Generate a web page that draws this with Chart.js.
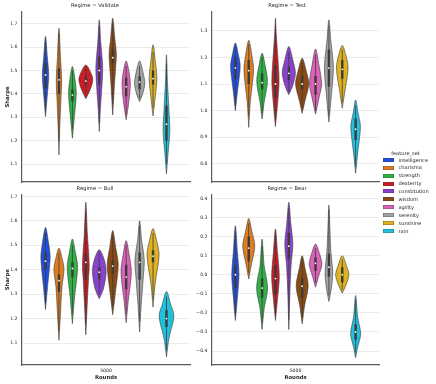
<!DOCTYPE html>
<html lang="en">
<head>
<meta charset="UTF-8">
<title>Sharpe by regime</title>
<style>
  body { margin: 0; background: #fff; }
  #wrap { position: relative; width: 436px; height: 384px; overflow: hidden; font-family: "DejaVu Sans", sans-serif; }
  canvas { position: absolute; }
  #legend { position: absolute; left: 382.5px; top: 148.5px; width: 53px; color: #262626; font-size: 5.1px; }
  #legend .ttl { width: 46px; text-align: center; height: 8px; line-height: 8px; }
  #legend .row { height: 7.97px; line-height: 7.97px; white-space: nowrap; }
  #legend .sw { display: inline-block; width: 11.5px; height: 4px; vertical-align: middle; margin-right: 4.5px; box-shadow: inset 0 0 0 0.6px rgba(60, 60, 60, 0.55); position: relative; top: -0.5px; }
</style>
<script src="https://cdn.jsdelivr.net/npm/chart.js"></script>
</head>
<body>
<div id="wrap">
  <canvas id="validate" width="200" height="192" style="left:0;top:0"></canvas>
  <canvas id="test" width="190" height="192" style="left:195px;top:0"></canvas>
  <canvas id="bull" width="200" height="200" style="left:0;top:184px"></canvas>
  <canvas id="bear" width="190" height="200" style="left:195px;top:184px"></canvas>
  <div id="legend"></div>
</div>
<script>
const rounds = ['5000'];
const featureSets = ['intelligence', 'charisma', 'strength', 'dexterity', 'constitution',
                     'wisdom', 'agility', 'serenity', 'sunshine', 'rain'];
const colors = ['#224fdf', '#df7d20', '#30b346', '#cb1d25', '#8a42cb',
                '#8b4a14', '#dc61b8', '#a3a3a3', '#dfb320', '#20c1df'];

// inner box per feature set: [whisker low, q1, median, q3, whisker high]
const validateStats = [
  [1.33, 1.424, 1.481, 1.531, 1.62], [1.20, 1.40, 1.46, 1.51, 1.66], [1.25, 1.37, 1.395, 1.42, 1.50],
  [1.40, 1.44, 1.455, 1.475, 1.51], [1.28, 1.44, 1.50, 1.56, 1.69], [1.36, 1.53, 1.555, 1.59, 1.70],
  [1.31, 1.39, 1.43, 1.47, 1.52], [1.38, 1.42, 1.45, 1.475, 1.52], [1.34, 1.44, 1.465, 1.50, 1.58],
  [1.10, 1.20, 1.27, 1.35, 1.53]
];
const testStats = [
  [1.02, 1.12, 1.16, 1.20, 1.24], [0.98, 1.10, 1.15, 1.19, 1.25], [0.99, 1.08, 1.105, 1.14, 1.20],
  [0.97, 1.05, 1.10, 1.17, 1.32], [1.07, 1.115, 1.14, 1.165, 1.22], [1.01, 1.08, 1.10, 1.13, 1.18],
  [1.00, 1.06, 1.10, 1.13, 1.21], [0.98, 1.09, 1.16, 1.23, 1.32], [1.03, 1.12, 1.155, 1.19, 1.23],
  [0.79, 0.89, 0.93, 0.97, 1.02]
];
const bullStats = [
  [1.27, 1.40, 1.435, 1.47, 1.55], [1.15, 1.31, 1.355, 1.38, 1.47], [1.22, 1.37, 1.405, 1.43, 1.50],
  [1.18, 1.36, 1.43, 1.465, 1.64], [1.30, 1.36, 1.39, 1.41, 1.47], [1.25, 1.38, 1.415, 1.44, 1.54],
  [1.22, 1.32, 1.37, 1.42, 1.50], [1.19, 1.36, 1.43, 1.47, 1.58], [1.28, 1.43, 1.455, 1.48, 1.55],
  [1.07, 1.165, 1.20, 1.235, 1.29]
];
const bearStats = [
  [-0.20, -0.07, 0.00, 0.05, 0.22], [0.01, 0.07, 0.14, 0.20, 0.27], [-0.25, -0.12, -0.07, -0.02, 0.15],
  [-0.20, -0.10, -0.02, 0.05, 0.21], [-0.24, 0.08, 0.15, 0.22, 0.35], [-0.22, -0.12, -0.06, -0.02, 0.08],
  [-0.04, 0.02, 0.06, 0.09, 0.14], [-0.11, -0.01, 0.04, 0.11, 0.34], [-0.08, -0.04, 0.00, 0.04, 0.08],
  [-0.41, -0.34, -0.30, -0.26, -0.13]
];

// violin outline per feature set, bottom to top: [sharpe, density]
const validateShape = [
  [[1.303, 0], [1.38, 0.22], [1.48, 0.47], [1.56, 0.26], [1.646, 0]],
  [[1.139, 0], [1.25, 0.11], [1.38, 0.30], [1.46, 0.40], [1.56, 0.22], [1.681, 0]],
  [[1.21, 0], [1.28, 0.22], [1.40, 0.57], [1.47, 0.34], [1.517, 0]],
  [[1.379, 0], [1.42, 0.67], [1.46, 1.04], [1.49, 0.75], [1.524, 0]],
  [[1.239, 0], [1.33, 0.15], [1.46, 0.45], [1.52, 0.50], [1.62, 0.22], [1.717, 0]],
  [[1.31, 0], [1.42, 0.22], [1.52, 0.45], [1.57, 0.54], [1.64, 0.30], [1.724, 0]],
  [[1.289, 0], [1.36, 0.37], [1.44, 0.62], [1.49, 0.45], [1.541, 0]],
  [[1.367, 0], [1.40, 0.45], [1.445, 0.77], [1.49, 0.52], [1.541, 0]],
  [[1.306, 0], [1.38, 0.30], [1.467, 0.57], [1.53, 0.37], [1.61, 0]],
  [[1.057, 0], [1.14, 0.22], [1.24, 0.50], [1.33, 0.37], [1.45, 0.15], [1.567, 0]]
];
const testShape = [
  [[1.00, 0], [1.07, 0.30], [1.166, 0.72], [1.21, 0.45], [1.254, 0]],
  [[0.937, 0], [1.03, 0.22], [1.153, 0.72], [1.21, 0.45], [1.264, 0]],
  [[0.969, 0], [1.03, 0.30], [1.11, 0.80], [1.17, 0.45], [1.216, 0]],
  [[0.94, 0], [1.01, 0.26], [1.11, 0.54], [1.22, 0.30], [1.29, 0.11], [1.348, 0]],
  [[1.06, 0], [1.09, 0.52], [1.14, 0.99], [1.19, 0.60], [1.241, 0]],
  [[0.99, 0], [1.04, 0.45], [1.10, 0.99], [1.15, 0.60], [1.197, 0]],
  [[0.987, 0], [1.04, 0.45], [1.10, 0.90], [1.17, 0.52], [1.231, 0]],
  [[0.957, 0], [1.04, 0.30], [1.16, 0.67], [1.26, 0.30], [1.341, 0]],
  [[1.009, 0], [1.07, 0.37], [1.16, 0.87], [1.21, 0.52], [1.245, 0]],
  [[0.765, 0], [0.84, 0.30], [0.94, 0.72], [0.99, 0.37], [1.04, 0]]
];
const bullShape = [
  [[1.237, 0], [1.33, 0.30], [1.45, 0.69], [1.51, 0.45], [1.573, 0]],
  [[1.111, 0], [1.22, 0.22], [1.33, 0.45], [1.40, 0.75], [1.44, 0.52], [1.488, 0]],
  [[1.179, 0], [1.28, 0.30], [1.41, 0.77], [1.47, 0.45], [1.526, 0]],
  [[1.134, 0], [1.25, 0.19], [1.35, 0.37], [1.42, 0.50], [1.55, 0.22], [1.676, 0]],
  [[1.281, 0], [1.32, 0.60], [1.39, 1.02], [1.44, 0.75], [1.482, 0]],
  [[1.216, 0], [1.30, 0.37], [1.42, 0.82], [1.49, 0.45], [1.56, 0]],
  [[1.183, 0], [1.27, 0.30], [1.39, 0.77], [1.46, 0.45], [1.519, 0]],
  [[1.145, 0], [1.25, 0.22], [1.36, 0.52], [1.44, 0.69], [1.52, 0.30], [1.60, 0]],
  [[1.247, 0], [1.34, 0.30], [1.46, 0.90], [1.52, 0.52], [1.569, 0]],
  [[1.043, 0], [1.12, 0.37], [1.21, 1.10], [1.26, 0.60], [1.311, 0]]
];
const bearShape = [
  [[-0.24, 0], [-0.12, 0.30], [0.00, 0.54], [0.12, 0.30], [0.257, 0]],
  [[-0.022, 0], [0.05, 0.37], [0.15, 0.90], [0.23, 0.45], [0.295, 0]],
  [[-0.287, 0], [-0.18, 0.30], [-0.07, 0.82], [0.05, 0.30], [0.187, 0]],
  [[-0.24, 0], [-0.13, 0.30], [-0.01, 0.57], [0.12, 0.30], [0.24, 0]],
  [[-0.287, 0], [-0.10, 0.15], [0.05, 0.34], [0.16, 0.60], [0.27, 0.30], [0.38, 0]],
  [[-0.257, 0], [-0.16, 0.37], [-0.06, 0.90], [0.03, 0.45], [0.10, 0]],
  [[-0.065, 0], [0.00, 0.52], [0.055, 0.95], [0.11, 0.60], [0.161, 0]],
  [[-0.14, 0], [-0.07, 0.37], [0.01, 0.57], [0.12, 0.30], [0.24, 0.15], [0.365, 0]],
  [[-0.097, 0], [-0.05, 0.60], [0.00, 0.99], [0.05, 0.60], [0.10, 0]],
  [[-0.435, 0], [-0.38, 0.30], [-0.31, 0.75], [-0.22, 0.30], [-0.109, 0]]
];

const validateTicks = [1.1, 1.2, 1.3, 1.4, 1.5, 1.6, 1.7];
const testTicks = [0.8, 0.9, 1.0, 1.1, 1.2, 1.3];
const bullTicks = [1.1, 1.2, 1.3, 1.4, 1.5, 1.6, 1.7];
const bearTicks = [-0.4, -0.3, -0.2, -0.1, 0.0, 0.1, 0.2, 0.3, 0.4];

Chart.defaults.font.family = '"DejaVu Sans", sans-serif';
Chart.defaults.color = '#262626';

const SLOT = 0.08;      // dodge width of one hue
const HALF = 0.04;      // half width of a density of 1
const INK = '#3b3b3b';

function buildDatasets(stats, shape) {
    const sets = [];
    const whisker = [], box = [], medians = [];
    shape.forEach((knots, i) => {
        const cx = (i - 4.5) * SLOT;
        const right = knots.map(([v, d]) => ({ x: cx + d * HALF, y: v }));
        const left = knots.slice().reverse().map(([v, d]) => ({ x: cx - d * HALF, y: v }));
        sets.push({
            data: right.concat(left.slice(1)),
            fill: 'shape',
            backgroundColor: colors[i],
            borderColor: INK,
            borderWidth: 0.6,
            tension: 0.3,
            pointRadius: 0,
            order: 3
        });
        const s = stats[i];
        whisker.push({ x: cx, y: s[0] }, { x: cx, y: s[4] }, { x: cx, y: null });
        box.push({ x: cx, y: s[1] }, { x: cx, y: s[3] }, { x: cx, y: null });
        medians.push({ x: cx, y: s[2] });
    });
    sets.push({ data: whisker, borderColor: INK, borderWidth: 0.8, pointRadius: 0, spanGaps: false, order: 2 });
    sets.push({ data: box, borderColor: INK, borderWidth: 2.4, borderCapStyle: 'butt', pointRadius: 0, spanGaps: false, order: 1 });
    sets.push({ data: medians, showLine: false, pointRadius: 0.9, pointBackgroundColor: '#fff', pointBorderWidth: 0, order: 0 });
    return sets;
}

function fmt(v) {
    return v.toFixed(1).replace('-', '\u2212');
}

function drawPanel(id, regime, stats, shape, ticks, yMin, yMax, isLeft, isBottom) {
    new Chart(document.getElementById(id), {
        type: 'line',
        data: { datasets: buildDatasets(stats, shape) },
        options: {
            responsive: false,
            animation: false,
            layout: { padding: { left: 0, right: isLeft ? 10 : 6, top: 0, bottom: 0 } },
            plugins: {
                legend: { display: false },
                tooltip: { enabled: false },
                title: {
                    display: true,
                    text: 'Regime = ' + regime,
                    font: { size: 5.2, weight: 'normal' },
                    padding: isBottom ? { top: 1.8, bottom: 2.4 } : { top: 3, bottom: 2.6 }
                }
            },
            scales: {
                x: {
                    type: 'linear',
                    min: -0.5,
                    max: 0.5,
                    grid: { display: false, drawTicks: false },
                    border: { color: '#5a5a5a', width: 1.2 },
                    afterBuildTicks: s => { s.ticks = [{ value: 0 }]; },
                    ticks: { display: isBottom, padding: 3, font: { size: 4.6 }, callback: () => rounds[0] },
                    title: { display: isBottom, text: 'Rounds', font: { size: 5.3, weight: 'bold' }, padding: { top: 1, bottom: 3 } },
                    afterFit: s => { s.height = isBottom ? 19 : 10; }
                },
                y: {
                    type: 'linear',
                    min: yMin,
                    max: yMax,
                    grid: { color: '#e6e6e6', lineWidth: 0.8, drawTicks: false },
                    border: { color: '#5a5a5a', width: 1.2 },
                    afterBuildTicks: s => { s.ticks = ticks.map(v => ({ value: v })); },
                    ticks: { padding: 4.5, font: { size: 4.6 }, callback: v => fmt(v) },
                    title: { display: isLeft, text: 'Sharpe', font: { size: 5.3, weight: 'bold' }, padding: { top: 4, bottom: 0 } },
                    afterFit: s => { s.width = isLeft ? 22 : 17; }
                }
            }
        }
    });
}

drawPanel('validate', 'Validate', validateStats, validateShape, validateTicks, 1.023, 1.751, true, false);
drawPanel('test', 'Test', testStats, testShape, testTicks, 0.732, 1.371, false, false);
drawPanel('bull', 'Bull', bullStats, bullShape, bullTicks, 1.010, 1.708, true, true);
drawPanel('bear', 'Bear', bearStats, bearShape, bearTicks, -0.473, 0.421, false, true);

// shared legend
const legend = document.getElementById('legend');
let html = '<div class="ttl">feature_set</div>';
featureSets.forEach((name, i) => {
    html += '<div class="row"><span class="sw" style="background:' + colors[i] + '"></span>' + name + '</div>';
});
legend.innerHTML = html;
</script>
</body>
</html>
